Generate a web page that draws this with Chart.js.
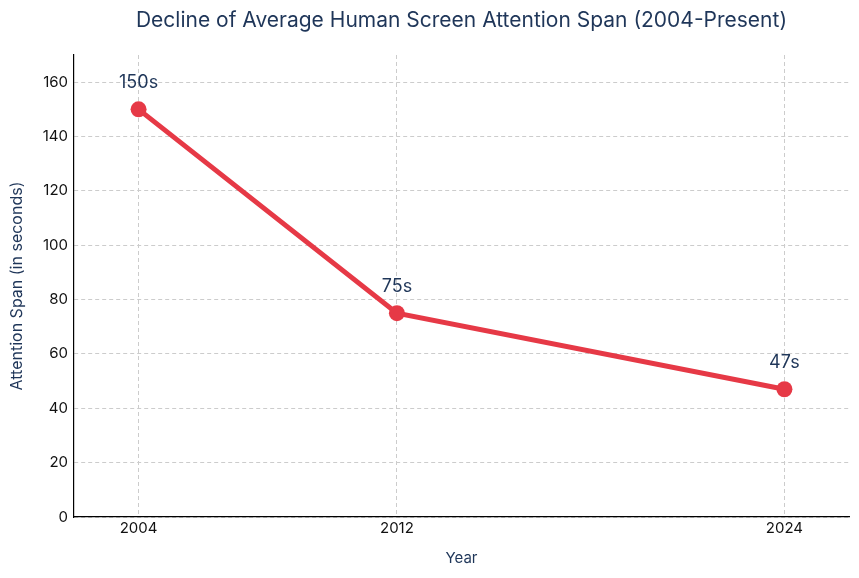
<!doctype html>
<html lang="en">
<head>
<meta charset="UTF-8">
<title>Attention Span</title>
<script src="https://cdn.jsdelivr.net/npm/chart.js"></script>
<style>
  html, body { margin: 0; padding: 0; background: #fff; }
  #wrap { width: 859px; height: 578px; }
</style>
</head>
<body>
<div id="wrap"><canvas id="myChart" width="859" height="578"></canvas></div>
<script>
var years = [2004, 2012, 2024];
var spans = [150, 75, 47];
var yearTicks = [2004, 2012, 2024];
var chartTitle = 'Decline of Average Human Screen Attention Span (2004-Present)';

var navy = '#1f3659';
var red = '#e63946';
Chart.defaults.font.family = 'Inter, "Noto Sans", sans-serif';

// labels "150s" etc above each point, title centred over the plot area
var pointLabels = {
    id: 'pointLabels',
    afterDatasetsDraw: function (chart) {
        var ctx = chart.ctx;
        var meta = chart.getDatasetMeta(0);
        var area = chart.chartArea;
        ctx.save();
        ctx.font = '18px Inter, "Noto Sans", sans-serif';
        ctx.fillStyle = navy;
        ctx.textAlign = 'center';
        ctx.textBaseline = 'middle';
        meta.data.forEach(function (pt, i) {
            ctx.fillText(spans[i] + 's', pt.x, pt.y - 27);
        });
        ctx.font = '21px Inter, "Noto Sans", sans-serif';
        ctx.fillText(chartTitle, (area.left + area.right) / 2, 21);
        ctx.restore();
    }
};

new Chart(document.getElementById('myChart'), {
    type: 'line',
    data: {
        datasets: [{
            data: years.map(function (y, i) { return { x: y, y: spans[i] }; }),
            borderColor: red,
            backgroundColor: red,
            borderWidth: 5,
            pointRadius: 8,
            pointHoverRadius: 8,
            pointBackgroundColor: red,
            pointBorderWidth: 0,
            tension: 0
        }]
    },
    options: {
        responsive: false,
        animation: false,
        layout: { padding: { top: 55, right: 10, left: 8, bottom: 7 } },
        plugins: {
            legend: { display: false },
            tooltip: { enabled: false },
            title: { display: false }
        },
        scales: {
            x: {
                type: 'linear',
                min: 2002,
                max: 2026,
                afterBuildTicks: function (axis) {
                    axis.ticks = yearTicks.map(function (v) { return { value: v }; });
                },
                afterFit: function (axis) { axis.height = 54; },
                ticks: {
                    color: '#111',
                    font: { size: 15 },
                    padding: 2,
                    callback: function (v) { return String(v); }
                },
                grid: { color: '#cccccc', drawTicks: false, tickLength: 0 },
                border: { color: '#000', width: 1.2, dash: [4, 3] },
                title: {
                    display: true,
                    text: 'Year',
                    color: navy,
                    font: { size: 15 },
                    padding: { top: 4 }
                }
            },
            y: {
                min: 0,
                max: 170,
                afterBuildTicks: function (axis) {
                    var t = [];
                    for (var v = 0; v <= 160; v += 20) t.push({ value: v });
                    axis.ticks = t;
                },
                afterFit: function (axis) { axis.width = 66; },
                ticks: {
                    color: '#111',
                    font: { size: 15 },
                    padding: 6
                },
                grid: { color: '#cccccc', drawTicks: false, tickLength: 0 },
                border: { color: '#000', width: 1.2, dash: [4, 3] },
                title: {
                    display: true,
                    text: 'Attention Span (in seconds)',
                    color: navy,
                    font: { size: 16 },
                    padding: { top: 0, bottom: 4 }
                }
            }
        }
    },
    plugins: [pointLabels]
});
</script>
</body>
</html>
